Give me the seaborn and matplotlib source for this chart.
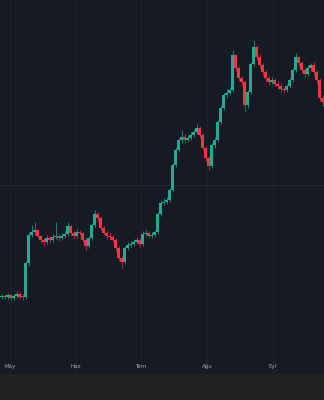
import numpy as np
import pandas as pd
import matplotlib
matplotlib.use("Agg")
import matplotlib.pyplot as plt
import seaborn as sns

# ---- data (daily candles, price units) ----
opens = [7.7, 7.8, 7.7, 7.9, 7.6, 7.8, 8.0, 7.8, 7.7, 11.1,
         13.9, 14.2, 14.4, 13.8, 13.4, 13.2, 13.6, 13.4, 13.7, 13.8,
         13.6, 13.8, 14.0, 14.8, 14.1, 13.8, 14.2, 14.1, 13.4, 12.8,
         13.6, 14.9, 16.0, 15.6, 14.6, 14.1, 13.8, 13.7, 13.4, 12.6,
         11.6, 11.2, 12.6, 12.9, 13.0, 13.2, 13.4, 13.0, 14.0, 14.1,
         13.8, 13.9, 14.2, 16.0, 17.1, 17.2, 17.4, 18.4, 20.9, 22.4,
         23.4, 23.7, 23.4, 23.6, 23.9, 24.2, 24.6, 23.9, 22.6, 21.6,
         20.8, 22.9, 23.4, 25.2, 26.6, 27.9, 28.1, 28.4, 31.9, 30.6,
         29.6, 29.2, 26.9, 28.2, 31.0, 32.7, 31.7, 30.9, 30.2, 29.6,
         29.2, 29.4, 29.0, 28.8, 28.5, 28.4, 28.8, 29.4, 30.4, 31.7,
         31.1, 30.4, 30.0, 30.6, 30.9, 30.2, 29.4, 27.6]
closes = [7.8, 7.7, 7.9, 7.6, 7.8, 8.0, 7.7, 7.7, 11.1, 13.9,
          14.2, 14.4, 13.8, 13.4, 13.2, 13.6, 13.4, 13.7, 13.8, 13.6,
          13.8, 14.0, 14.8, 14.1, 13.8, 14.2, 14.1, 13.4, 12.8, 13.6,
          14.9, 16.0, 15.6, 14.6, 14.1, 13.8, 13.7, 13.4, 12.6, 11.6,
          11.2, 12.6, 12.9, 13.0, 13.2, 13.4, 13.0, 14.0, 14.1, 13.8,
          13.9, 14.2, 16.0, 17.1, 17.2, 17.4, 18.4, 20.9, 22.4, 23.4,
          23.7, 23.4, 23.6, 23.9, 24.2, 24.6, 23.9, 22.6, 21.6, 20.8,
          22.9, 23.4, 25.2, 26.6, 27.9, 28.1, 28.4, 31.9, 30.6, 29.6,
          29.2, 26.9, 28.2, 31.0, 32.7, 31.7, 30.9, 30.2, 29.6, 29.2,
          29.4, 29.0, 28.8, 28.5, 28.4, 28.8, 29.4, 30.4, 31.7, 31.1,
          30.4, 30.0, 30.6, 30.9, 30.2, 29.4, 27.6, 27.2]
highs = [8.0, 8.0, 8.1, 8.0, 8.0, 8.3, 8.2, 8.0, 11.3, 14.2,
         14.9, 15.2, 14.5, 13.9, 13.6, 13.9, 13.8, 14.0, 15.2, 14.0,
         14.1, 14.3, 15.2, 14.9, 14.3, 14.5, 14.4, 14.2, 13.6, 13.8,
         15.1, 16.4, 16.2, 15.8, 14.8, 14.3, 14.1, 13.9, 13.6, 12.8,
         11.8, 12.8, 13.2, 13.3, 13.5, 13.7, 13.6, 14.3, 14.4, 14.3,
         14.2, 14.4, 16.2, 17.4, 17.6, 17.7, 18.6, 21.1, 22.7, 23.6,
         24.4, 24.0, 23.9, 24.2, 24.5, 25.0, 24.8, 24.1, 22.8, 21.8,
         23.1, 23.7, 25.4, 26.9, 28.1, 28.5, 28.7, 32.4, 32.0, 30.8,
         29.8, 29.4, 28.4, 31.2, 33.4, 32.9, 32.0, 31.1, 30.4, 29.8,
         29.7, 29.6, 29.3, 29.1, 28.7, 29.0, 29.6, 30.6, 32.1, 31.8,
         31.3, 30.6, 30.9, 31.1, 31.2, 30.4, 29.6, 27.9]
lows = [7.5, 7.5, 7.5, 7.4, 7.4, 7.6, 7.5, 7.4, 7.5, 10.8,
        13.7, 13.9, 13.6, 13.1, 12.9, 13.0, 13.1, 13.2, 13.5, 13.3,
        13.4, 13.6, 13.8, 13.9, 13.5, 13.6, 13.9, 13.2, 12.4, 12.6,
        13.4, 14.7, 15.3, 14.4, 13.9, 13.5, 13.4, 13.2, 12.3, 11.3,
        10.6, 11.0, 12.4, 12.7, 12.8, 13.0, 12.7, 12.8, 13.8, 13.6,
        13.6, 13.7, 14.0, 15.8, 16.9, 17.0, 17.2, 18.2, 20.7, 22.2,
        23.1, 23.1, 23.2, 23.4, 23.7, 24.0, 23.6, 22.4, 21.3, 20.4,
        20.6, 22.6, 23.2, 25.0, 26.4, 27.6, 27.9, 28.2, 30.3, 29.3,
        28.9, 26.2, 26.6, 28.0, 30.8, 31.4, 30.6, 29.9, 29.3, 28.9,
        29.0, 28.8, 28.5, 28.2, 28.1, 28.2, 28.6, 29.2, 30.2, 30.8,
        30.1, 29.7, 29.8, 30.3, 29.9, 29.1, 27.3, 26.8]
month_labels = ["May", "Haz", "Tem", "Ağu", "Eyl"]
month_starts = [2.8, 24.8, 46.5, 68.5, 90.5]
ref_level = 18.9

df = pd.DataFrame({"open": opens, "high": highs, "low": lows, "close": closes})
df["idx"] = np.arange(len(df))
df["up"] = df["close"] >= df["open"]

UP, DOWN = "#22ab94", "#f23645"
BG, STRIP = "#161a25", "#222121"

sns.set_theme(style="dark", rc={"axes.facecolor": BG, "figure.facecolor": STRIP})
fig = plt.figure(figsize=(3.24, 4.0), dpi=100)
ax = fig.add_axes([0, 26 / 400, 1, 374 / 400])
ax.set_facecolor(BG)

# grid
for m in month_starts:
    ax.axvline(m, color="#1e222d", lw=0.7, zorder=0)
ax.axhline(ref_level, color="#262a36", lw=0.6, zorder=0)

colors = np.where(df["up"], UP, DOWN)
ax.vlines(df["idx"], df["low"], df["high"], colors=colors, lw=0.5, zorder=2)
body_bottom = np.minimum(df["open"], df["close"])
body_h = np.maximum(np.abs(df["close"] - df["open"]), 0.08)
ax.bar(df["idx"], body_h, bottom=body_bottom, width=0.68, color=colors,
       linewidth=0, zorder=3)

ax.set_xlim(-0.5, len(df) - 0.5)
ax.set_ylim(0, 37.4)
ax.set_yticks([])
ax.set_xticks(month_starts)
ax.set_xticklabels(month_labels)
ax.tick_params(axis="x", length=0, pad=-7.5, labelsize=4, labelcolor="#a3a6af")
for s in ax.spines.values():
    s.set_visible(False)
ax.grid(False)

fig.savefig("out.png", dpi=100, facecolor=STRIP)
